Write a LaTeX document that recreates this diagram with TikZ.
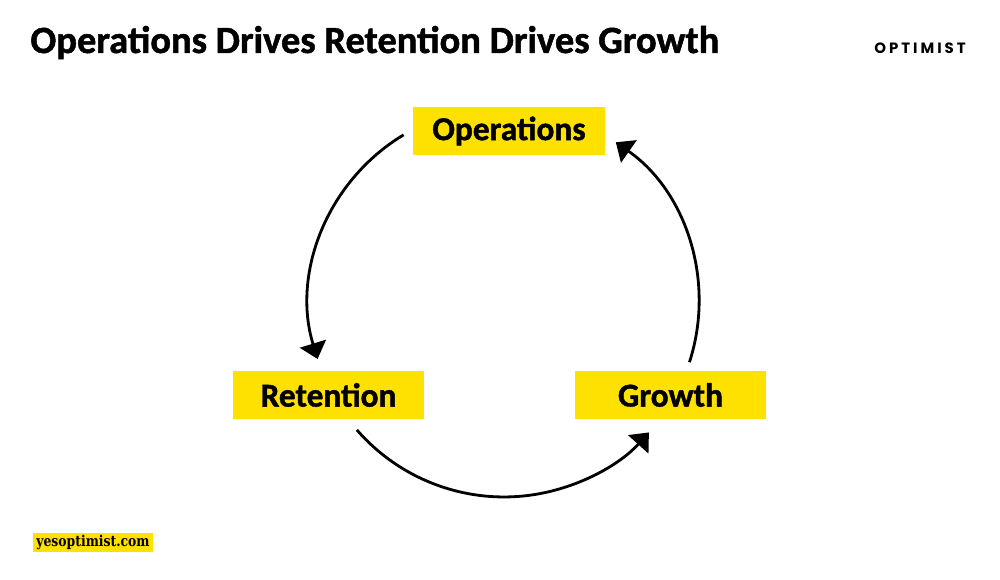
\documentclass[tikz,border=0pt]{standalone}
\usepackage{fontspec}
\setmainfont{Carlito}[BoldFeatures={FakeBold=1.3}]
\newfontfamily\webfont{DejaVu Serif}[FakeStretch=0.83]
\newfontfamily\brandfont{Poppins}[LetterSpace=20]
\usetikzlibrary{positioning,arrows.meta,calc}
\definecolor{cyellow}{HTML}{FFE100}
\tikzset{
  tag/.style={fill=cyellow, inner sep=0pt, minimum width=3.84cm, minimum height=0.96cm, font=\fontsize{19}{22}\selectfont\bfseries},
  cyc/.style={-{Triangle[length=3.2mm, width=5.4mm]}, line width=1.6pt},
}
\begin{document}
\begin{tikzpicture}[x=0.02cm, y=0.02cm]
    \useasboundingbox (0,0) rectangle (1000,580);
    \node[anchor=base west, inner sep=0pt, font=\fontsize{21.9}{26}\selectfont\bfseries] (title) at (30,527) {Operations Drives Retention Drives Growth};
    \node[anchor=base east, inner sep=0pt, font=\brandfont\fontsize{8.5}{10}\selectfont\bfseries] (brand) at (966,526) {OPTIMIST};
    \node[tag] (ops) at (509,449) {Operations};
    \node[tag] (ret) at (328.5,185) {Retention};
    \node[tag] (gro) at (670.5,185) {Growth};
    \node[fill=cyellow, inner sep=0pt, minimum width=2.4cm, minimum height=0.38cm, font=\webfont\fontsize{8.5}{10}\selectfont\bfseries] (web) at (93,37.5) {yesoptimist.com};
    % cycle arcs around a common centre
    \coordinate (hub) at (504,278);
    \path (hub) ++(121:3.9cm) coordinate (opsout);
    \path (hub) ++(221:3.9cm) coordinate (retout);
    \path (hub) ++(342:3.9cm) coordinate (groout);
    \draw[cyc] (opsout) arc[start angle=121, end angle=197, radius=3.9cm];
    \draw[cyc] (retout) arc[start angle=221, end angle=318, radius=3.9cm];
    \draw[cyc] (groout) arc[start angle=342, end angle=415, radius=3.9cm];
  \end{tikzpicture}
\end{document}
